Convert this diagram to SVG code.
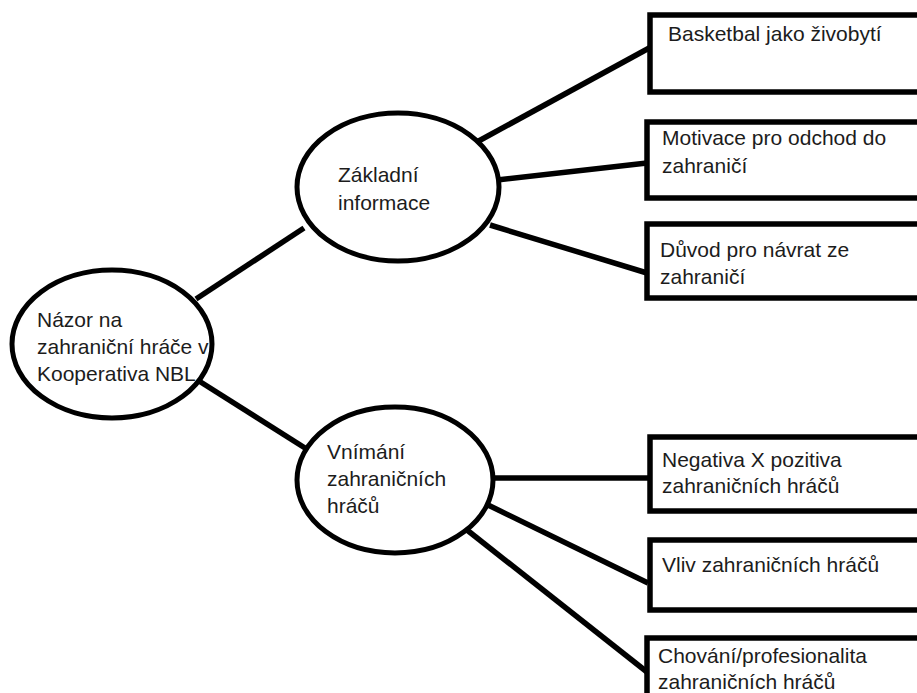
<svg xmlns="http://www.w3.org/2000/svg" width="917" height="693" viewBox="0 0 917 693">
<style>
.bg{fill:#ffffff}
.ell{fill:#ffffff;stroke:#000000;stroke-width:5}
.box{fill:#ffffff;stroke:#000000;stroke-width:5.5}
.conn line{stroke:#000000;stroke-width:5.5;stroke-linecap:butt}
text{font-family:"Liberation Sans",Arial,sans-serif;font-size:21px;fill:#1c1c1c}
</style>
<rect class="bg" x="0" y="0" width="917" height="693"/>
<g id="connectors" class="conn">
<line x1="196" y1="299" x2="304" y2="228"/>
<line x1="199" y1="381" x2="305" y2="448"/>
<line x1="475" y1="143" x2="651" y2="47"/>
<line x1="497" y1="180" x2="647" y2="163"/>
<line x1="490" y1="225" x2="647" y2="273"/>
<line x1="492" y1="478" x2="650" y2="478"/>
<line x1="488" y1="505" x2="648" y2="583"/>
<line x1="467" y1="530" x2="647" y2="672"/>
</g>
<g id="root">
<ellipse class="ell" cx="112" cy="344" rx="100" ry="74"/>
<text x="37" y="327">Názor na</text>
<text x="37" y="354">zahraniční hráče v</text>
<text x="37" y="381">Kooperativa NBL</text>
</g>
<g id="zakladni">
<ellipse class="ell" cx="398" cy="187" rx="101" ry="74"/>
<text x="338" y="182">Základní</text>
<text x="338" y="210">informace</text>
</g>
<g id="vnimani">
<ellipse class="ell" cx="395" cy="480" rx="98" ry="73"/>
<text x="327" y="459">Vnímání</text>
<text x="327" y="486">zahraničních</text>
<text x="327" y="513">hráčů</text>
</g>
<g id="box1">
<rect class="box" x="650" y="15" width="290" height="77"/>
<text x="668" y="41">Basketbal jako živobytí</text>
</g>
<g id="box2">
<rect class="box" x="647" y="122" width="290" height="76"/>
<text x="662" y="145">Motivace pro odchod do</text>
<text x="662" y="173">zahraničí</text>
</g>
<g id="box3">
<rect class="box" x="647" y="224" width="290" height="74"/>
<text x="660" y="257">Důvod pro návrat ze</text>
<text x="660" y="284">zahraničí</text>
</g>
<g id="box4">
<rect class="box" x="650" y="437" width="290" height="74"/>
<text x="662" y="467">Negativa X pozitiva</text>
<text x="662" y="493">zahraničních hráčů</text>
</g>
<g id="box5">
<rect class="box" x="650" y="540" width="290" height="70"/>
<text x="662" y="572">Vliv zahraničních hráčů</text>
</g>
<g id="box6">
<rect class="box" x="647" y="638" width="290" height="80"/>
<text x="658" y="663">Chování/profesionalita</text>
<text x="658" y="689">zahraničních hráčů</text>
</g>
</svg>
